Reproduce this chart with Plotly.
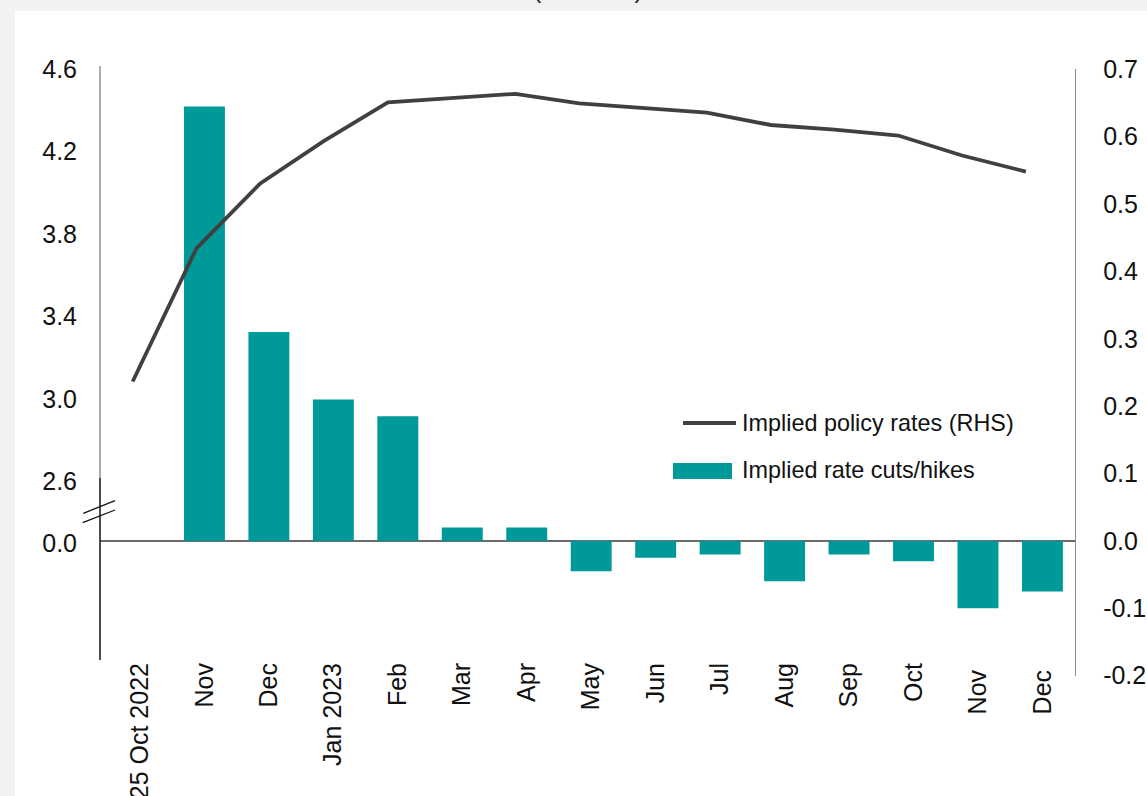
import plotly.graph_objects as go

# ---- data ----
categories = ["25 Oct 2022", "Nov", "Dec", "Jan 2023", "Feb", "Mar", "Apr", "May",
              "Jun", "Jul", "Aug", "Sep", "Oct", "Nov ", "Dec "]
rate_changes = [0.0, 0.645, 0.31, 0.21, 0.185, 0.02, 0.02, -0.045,
                -0.025, -0.02, -0.06, -0.02, -0.03, -0.10, -0.075]
policy_rates = [3.085, 3.731, 4.046, 4.252, 4.439, 4.459, 4.480, 4.434,
                4.410, 4.389, 4.329, 4.307, 4.278, 4.181, 4.103]
left_tick_labels = ["0.0", "2.6", "3.0", "3.4", "3.8", "4.2", "4.6"]
left_tick_values = [2.30, 2.6, 3.0, 3.4, 3.8, 4.2, 4.6]   # 2.30 = axis-break position of "0.0"
right_tick_values = [-0.2, -0.1, 0.0, 0.1, 0.2, 0.3, 0.4, 0.5, 0.6, 0.7]
right_tick_labels = ["-0.2", "-0.1", "0.0", "0.1", "0.2", "0.3", "0.4", "0.5", "0.6", "0.7"]
line_name = "Implied policy rates (RHS)"
bar_name = "Implied rate cuts/hikes"
title_text = "(Per cent)"

TEAL = "#009999"
DARK = "#404040"
FONT = "Liberation Sans, Arial, sans-serif"

W, H = 1147, 796
L, R, T, B = 100, 72, 69, 120
PW, PH = W - L - R, H - T - B


def px(x):
    return (x - L) / PW


def py(y):
    return (H - B - y) / PH


fig = go.Figure()
fig.add_trace(go.Bar(
    x=categories, y=rate_changes, name=bar_name, yaxis="y2", xaxis="x",
    marker=dict(color=TEAL, line=dict(width=0)),
    width=0.635, showlegend=False,
))
fig.add_trace(go.Scatter(
    x=categories, y=policy_rates, name=line_name, yaxis="y", xaxis="x2",
    mode="lines", line=dict(color=DARK, width=3.8), showlegend=False,
))

shapes = [
    # white panel over grey page
    dict(type="rect", xref="paper", yref="paper", x0=px(15), x1=px(W + 5),
         y0=py(H + 5), y1=py(10.7), fillcolor="white", line=dict(width=0), layer="below"),
    # left axis line (grey upper part, black lower part)
    dict(type="line", xref="paper", yref="paper", x0=0, x1=0, y0=py(478), y1=py(66),
         line=dict(color="#8f8f8f", width=1.5)),
    dict(type="line", xref="paper", yref="paper", x0=0, x1=0, y0=py(660), y1=py(478),
         line=dict(color="#111111", width=1.5)),
    # axis break marks
    dict(type="line", xref="paper", yref="paper", x0=px(83.3), y0=py(513.3), x1=px(115), y1=py(500.7),
         line=dict(color="#111111", width=1.3)),
    dict(type="line", xref="paper", yref="paper", x0=px(82.7), y0=py(522.7), x1=px(115), y1=py(510),
         line=dict(color="#111111", width=1.3)),
    # legend samples
    dict(type="line", xref="paper", yref="paper", x0=px(683), x1=px(736), y0=py(423), y1=py(423),
         line=dict(color=DARK, width=3.8)),
    dict(type="rect", xref="paper", yref="paper", x0=px(673), x1=px(732), y0=py(479), y1=py(463),
         fillcolor=TEAL, line=dict(width=0)),
]

annotations = [
    dict(xref="paper", yref="paper", x=px(740), y=py(423), xanchor="left", yanchor="middle",
         text=line_name, showarrow=False, font=dict(size=23.4, color="#111111", family=FONT)),
    dict(xref="paper", yref="paper", x=px(740), y=py(470), xanchor="left", yanchor="middle",
         text=bar_name, showarrow=False, font=dict(size=23.4, color="#111111", family=FONT)),
    dict(xref="paper", yref="paper", x=px(588), y=py(-11), xanchor="center", yanchor="middle",
         text=title_text, showarrow=False, font=dict(size=25, color="#222222", family=FONT)),
]

fig.update_layout(
    width=W, height=H, autosize=False,
    margin=dict(l=L, r=R, t=T, b=B, pad=0, autoexpand=False),
    paper_bgcolor="#f2f2f2", plot_bgcolor="rgba(0,0,0,0)",
    font=dict(family=FONT, size=25, color="#111111"),
    shapes=shapes, annotations=annotations,
    xaxis=dict(type="category", anchor="free", position=py(657), range=[-0.62, 14.505],
               tickangle=-90, showline=False, showgrid=False, zeroline=False, ticks="",
               automargin=False,
               tickfont=dict(size=25, color="#111111", family=FONT)),
    xaxis2=dict(type="category", overlaying="x", range=[-0.512, 14.77], visible=False,
                automargin=False),
    yaxis=dict(range=[1.657, 4.6005], tickvals=left_tick_values, ticktext=left_tick_labels,
               showline=False, showgrid=False, zeroline=False, ticks="", automargin=False,
               ticklabelstandoff=22, tickfont=dict(size=25, color="#111111", family=FONT)),
    yaxis2=dict(range=[-0.2005, 0.7005], overlaying="y", side="right", anchor="x",
                tickvals=right_tick_values, ticktext=right_tick_labels,
                showline=True, linecolor="#8a8a8a", linewidth=1.3, automargin=False,
                showgrid=False, zeroline=True, zerolinecolor="#6b6b6b", zerolinewidth=1.6,
                ticks="", ticklabelstandoff=22,
                tickfont=dict(size=25, color="#111111", family=FONT)),
)

fig.write_html("out.html")
